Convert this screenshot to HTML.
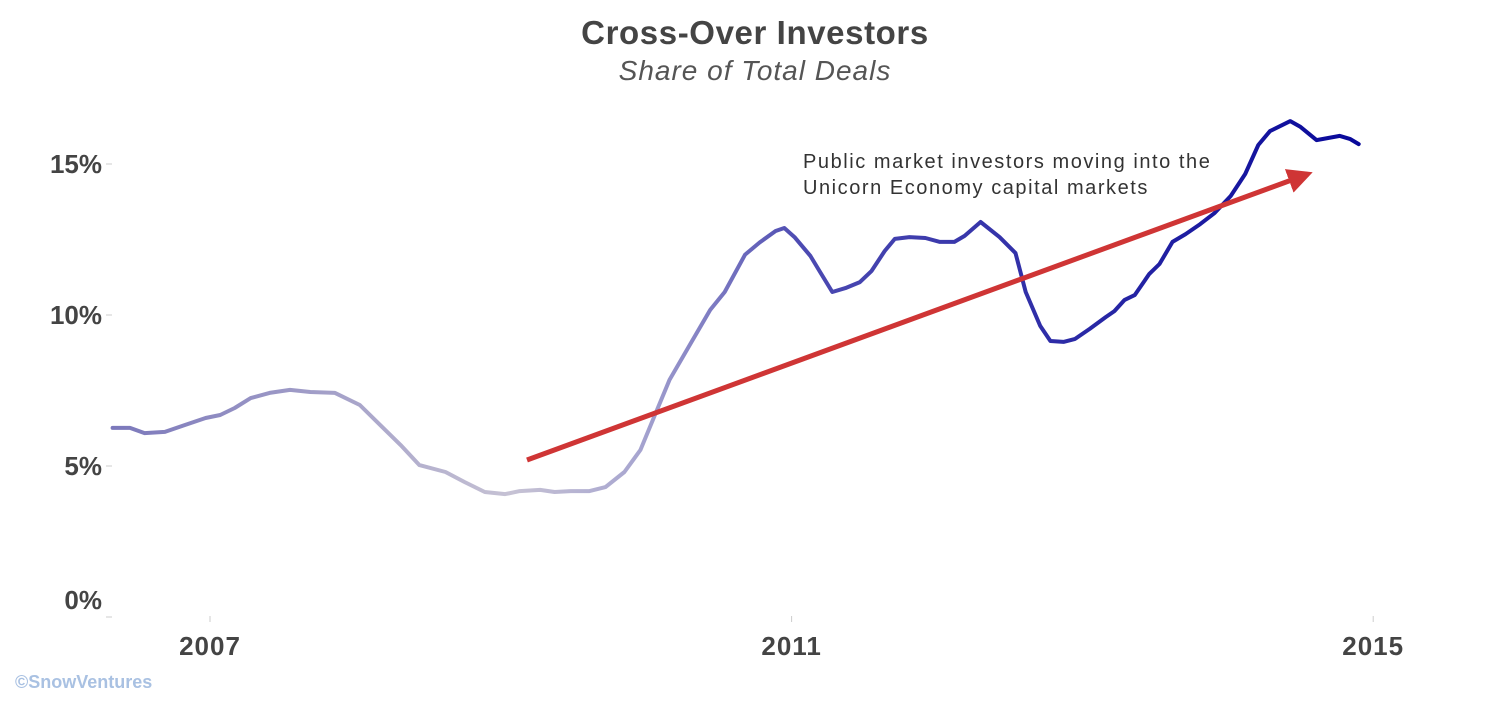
<!DOCTYPE html>
<html><head><meta charset="utf-8"><style>
body{margin:0;background:#fff;width:1499px;height:703px;overflow:hidden;font-family:"Liberation Sans",sans-serif}
</style></head><body>
<svg id="chart" width="1499" height="703" viewBox="0 0 1499 703" xmlns="http://www.w3.org/2000/svg">
<defs>
<linearGradient id="lg" gradientUnits="userSpaceOnUse" x1="112" y1="0" x2="1360" y2="0">
<stop offset="0" stop-color="#7b78bb"/><stop offset="0.32" stop-color="#c6c2d4"/><stop offset="0.42" stop-color="#a8a6d0"/><stop offset="0.55" stop-color="#4d4bb2"/><stop offset="1" stop-color="#08089a"/>
</linearGradient>
<marker id="ah" viewBox="0 0 10 10" refX="8" refY="5" markerWidth="5" markerHeight="5" orient="auto"><path d="M0,0 L10,5 L0,10 z" fill="#cf3535"/></marker>
</defs>
<text x="755" y="44" text-anchor="middle" font-size="33" font-weight="bold" fill="#444" letter-spacing="0.6">Cross-Over Investors</text>
<text x="755" y="80" text-anchor="middle" font-size="28" font-style="italic" fill="#555" letter-spacing="1">Share of Total Deals</text>
<g id="yaxis"></g>
<g id="xaxis"></g>
<path id="line" fill="none" stroke="url(#lg)" stroke-width="4" stroke-linejoin="round" stroke-linecap="round"/>
<line x1="527" y1="460" x2="1308" y2="174" stroke="#cf3535" stroke-width="5" marker-end="url(#ah)"/>
<text font-size="20" fill="#333" letter-spacing="1.55"><tspan x="803" y="168">Public market investors moving into the</tspan><tspan x="803" y="194">Unicorn Economy capital markets</tspan></text>
<text x="15" y="688" font-size="18" font-weight="bold" fill="#a9c1e2">©SnowVentures</text>
</svg>
<script>
const years=[2006.33,2006.45,2006.55,2006.69,2006.83,2006.97,2007.07,2007.17,2007.28,2007.41,2007.55,2007.69,2007.86,2008.03,2008.17,2008.31,2008.44,2008.62,2008.75,2008.89,2009.03,2009.13,2009.27,2009.37,2009.48,2009.61,2009.72,2009.85,2009.96,2010.06,2010.16,2010.30,2010.44,2010.54,2010.68,2010.78,2010.89,2010.95,2011.02,2011.13,2011.20,2011.28,2011.37,2011.47,2011.55,2011.64,2011.71,2011.81,2011.92,2012.02,2012.12,2012.19,2012.30,2012.43,2012.54,2012.61,2012.71,2012.78,2012.87,2012.95,2013.05,2013.16,2013.22,2013.29,2013.36,2013.46,2013.53,2013.62,2013.71,2013.81,2013.91,2014.02,2014.12,2014.21,2014.29,2014.43,2014.50,2014.61,2014.77,2014.84,2014.90];
const shares=[6.26,6.26,6.09,6.13,6.36,6.59,6.69,6.92,7.25,7.42,7.52,7.45,7.42,7.02,6.36,5.70,5.03,4.80,4.47,4.14,4.07,4.17,4.21,4.14,4.17,4.17,4.30,4.80,5.53,6.69,7.85,9.01,10.17,10.76,12.0,12.4,12.78,12.88,12.58,11.95,11.39,10.76,10.89,11.09,11.46,12.12,12.52,12.58,12.55,12.42,12.42,12.62,13.08,12.58,12.05,10.76,9.64,9.14,9.11,9.21,9.54,9.93,10.13,10.50,10.66,11.36,11.69,12.42,12.68,13.01,13.38,13.94,14.67,15.63,16.09,16.42,16.23,15.79,15.93,15.83,15.66];
const yTicks=[0,5,10,15];
const yTickLabels=["0%","5%","10%","15%"];
const xTicks=[2007,2011,2015];
const xTickLabels=["2007","2011","2015"];
const NS="http://www.w3.org/2000/svg";
const xs=y=>210+(y-2007)*145.4;
const ys=v=>617-v*30.2;
let d="";
years.forEach((y,i)=>{d+=(i?"L":"M")+xs(y).toFixed(1)+","+ys(shares[i]).toFixed(1);});
document.getElementById("line").setAttribute("d",d);
const ya=document.getElementById("yaxis");
yTicks.forEach((t,i)=>{
 const l=document.createElementNS(NS,"line");
 
 
 l.setAttribute("x1",106);l.setAttribute("x2",112);l.setAttribute("y1",ys(t));l.setAttribute("y2",ys(t));l.setAttribute("stroke","#ccc");
 ya.appendChild(l);
 const tx=document.createElementNS(NS,"text");
 
 
 tx.setAttribute("x",102);tx.setAttribute("y",ys(t)+(t===0?-8:9));tx.setAttribute("text-anchor","end");
 tx.setAttribute("font-size","26");tx.setAttribute("font-weight","bold");tx.setAttribute("fill","#444");
 tx.textContent=yTickLabels[i];ya.appendChild(tx);
});
const xa=document.getElementById("xaxis");
xTicks.forEach((t,i)=>{
 const l=document.createElementNS(NS,"line");
 
 
 l.setAttribute("x1",xs(t));l.setAttribute("x2",xs(t));l.setAttribute("y1",616);l.setAttribute("y2",622);l.setAttribute("stroke","#ccc");
 xa.appendChild(l);
 const tx=document.createElementNS(NS,"text");
 
 
 tx.setAttribute("x",xs(t));tx.setAttribute("y",655);tx.setAttribute("text-anchor","middle");
 tx.setAttribute("font-size","26");tx.setAttribute("font-weight","bold");tx.setAttribute("fill","#444");
 tx.setAttribute("letter-spacing","1");
 tx.textContent=xTickLabels[i];xa.appendChild(tx);
});
</script>
</body></html>
